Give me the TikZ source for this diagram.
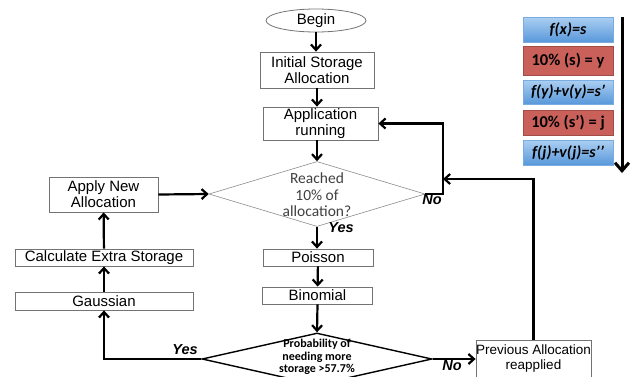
\documentclass[tikz,border=0pt]{standalone}
\usepackage{fontspec}
\setmainfont{Liberation Sans}
\newfontfamily\calibri{Carlito}
\usetikzlibrary{shapes.geometric,arrows.meta}
\definecolor{paneltop}{RGB}{172,207,242}
\definecolor{panelbot}{RGB}{88,152,218}
\definecolor{panelred}{RGB}{202,96,90}

\begin{document}
\begin{tikzpicture}[x=1pt,y=-1pt,>={Straight Barb[length=5.5pt,width=10pt]},
  box/.style={draw=black!55,line width=0.8pt,inner sep=0pt,align=center,
    font=\fontsize{15}{16}\selectfont},
  decision/.style={diamond,draw,inner sep=0pt},
  flow/.style={->,line width=2.2pt},
  answer/.style={font=\fontsize{14.5}{15}\selectfont\bfseries\itshape},
  stepblue/.style={inner sep=0pt,minimum width=90pt,top color=paneltop,bottom color=panelbot,
    draw=panelbot!80,line width=0.4pt,font=\calibri\bfseries\itshape\fontsize{16}{16}\selectfont},
  stepred/.style={inner sep=0pt,minimum width=90pt,fill=panelred,
    draw=panelred!80!black,line width=0.4pt,font=\calibri\bfseries\fontsize{16.5}{16.5}\selectfont}]
  \useasboundingbox (0,0) rectangle (630,376);
  \clip (0,0) rectangle (630,376);

  % Main column
  \node[box,ellipse,minimum width=100pt,minimum height=23pt] (begin) at (316,20.5) {Begin};
  \node[box,minimum width=114pt,minimum height=36pt] (init) at (317,70) {Initial Storage\\Allocation};
  \node[box,minimum width=115pt,minimum height=33pt] (app) at (320.5,123.5) {Application\\running};
  \node[decision,draw=black!45,line width=0.6pt,minimum width=216pt,minimum height=65pt] (reach) at (317,194) {};
  \node[font=\calibri\fontsize{15.5}{16.5}\selectfont,text=black!75,align=center] (reachtext) at (317,195) {Reached\\10\% of\\allocation?};
  \node[box,minimum width=110pt,minimum height=17pt] (poisson) at (318,257.5) {Poisson};
  \node[box,minimum width=110pt,minimum height=17pt] (binomial) at (317.5,295.5) {Binomial};
  \node[decision,line width=1.4pt,minimum width=230pt,minimum height=52pt] (prob) at (317,359) {};
  \node[font=\calibri\bfseries\fontsize{12}{12.5}\selectfont,align=center] (probtext) at (317,357) {Probability of\\needing more\\storage >57.7\%};
  \node[box,font=\fontsize{13.5}{15}\selectfont,minimum width=115pt,minimum height=38pt] (prev) at (533.5,359) {Previous Allocation\\reapplied};

  % Left branch
  \node[box,minimum width=109pt,minimum height=35pt] (apply) at (103.5,194.5) {Apply New\\Allocation};
  \node[box,minimum width=178pt,minimum height=17pt] (calc) at (104,257.5) {Calculate Extra Storage};
  \node[box,minimum width=178pt,minimum height=18pt] (gauss) at (104,301) {Gaussian};

  % Connectors
  \draw[flow] (begin.south) -- (begin.south |- init.north);
  \draw[flow] (init.south) -- (init.south |- app.north);
  \draw[flow] (app.south -| reach.north) -- (reach.north);
  \draw[flow] (reach.south) -- (reach.south |- poisson.north);
  \draw[flow] (poisson) -- (binomial);
  \draw[flow] (binomial.south) -- (prob.north);
  \draw[flow] (prob.east) -- (prob.east -| prev.west);
  \draw[flow] (prob.west) -| (gauss.south);
  \draw[flow] (gauss) -- (calc);
  \draw[flow] (calc) -- (apply);
  \draw[flow] (apply.east) -- (reach.west);
  \draw[flow] (reach.east) -- ++(18,0) |- (app.east);
  \coordinate (merge) at (443,179);
  \draw[flow] (prev.north) |- (merge);

  \node[answer] (yes1) at (341,228) {Yes};
  \node[answer] (no1) at (432,200) {No};
  \node[answer] (yes2) at (185,350) {Yes};
  \node[answer] (no2) at (452,366) {No};

  % Side panel
  \node[stepblue,minimum height=25pt] (fx) at (568,29.5) {f(x)=s};
  \node[stepred,minimum height=29pt] (ten1) at (568,60.5) {10\% (s) = y};
  \node[stepblue,minimum height=24pt] (fy) at (568,92) {f(y)+v(y)=s’};
  \node[stepred,minimum height=25pt] (ten2) at (568,122.5) {10\% (s’) = j};
  \node[stepblue,minimum height=25pt] (fj) at (568,152.5) {f(j)+v(j)=s’’};
  \coordinate (ptop) at (622,17);
  \coordinate (pend) at (622,173);
  \draw[line width=3pt,-{Straight Barb[length=8pt,width=14pt]}] (ptop) -- (pend);
\end{tikzpicture}
\end{document}
